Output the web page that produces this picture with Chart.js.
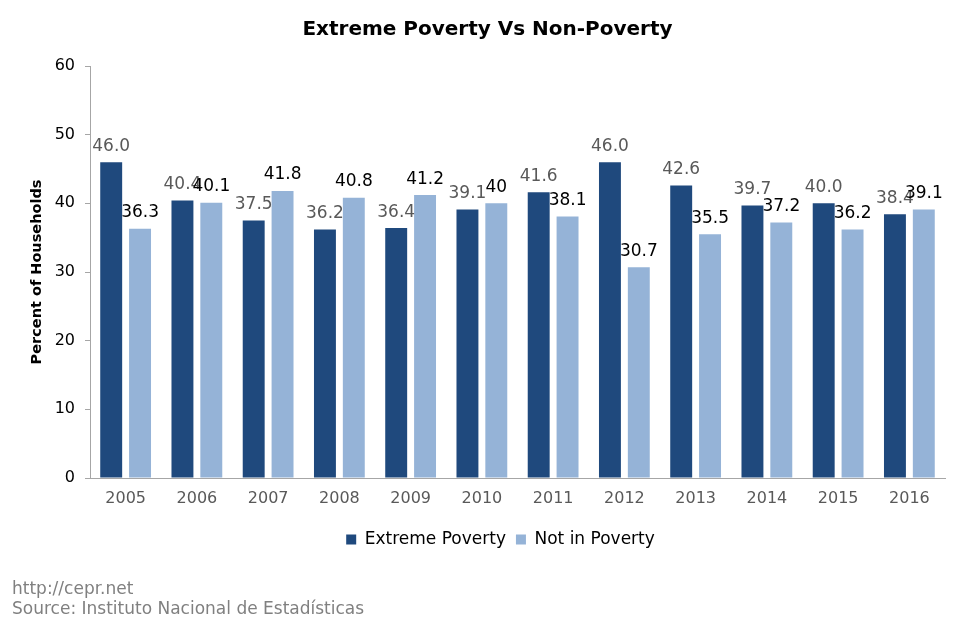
<!DOCTYPE html>
<html>
<head>
<meta charset="utf-8">
<script src="https://cdn.jsdelivr.net/npm/chart.js@4.4.1/dist/chart.umd.min.js"></script>
<style>
  html, body { margin: 0; padding: 0; background: #fff; }
  #wrap { width: 975px; height: 627px; position: relative; }
</style>
</head>
<body>
<div id="wrap"><canvas id="c" width="975" height="627"></canvas></div>
<script>
const years = ['2005','2006','2007','2008','2009','2010','2011','2012','2013','2014','2015','2016'];
const extremePoverty = [46.0, 40.4, 37.5, 36.2, 36.4, 39.1, 41.6, 46.0, 42.6, 39.7, 40.0, 38.4];
const notInPoverty = [36.3, 40.1, 41.8, 40.8, 41.2, 40, 38.1, 30.7, 35.5, 37.2, 36.2, 39.1];
const yTicks = [0, 10, 20, 30, 40, 50, 60];
const titleText = 'Extreme Poverty Vs Non-Poverty';
const yTitle = 'Percent of Households';
const footerLines = ['http://cepr.net', 'Source: Instituto Nacional de Estadísticas'];

const FONT = '"DejaVu Sans", Verdana, sans-serif';

const labelPlugin = {
  id: 'barLabels',
  afterDatasetsDraw(chart) {
    const ctx = chart.ctx;
    ctx.save();
    ctx.font = '17px ' + FONT;
    ctx.textAlign = 'center';
    ctx.textBaseline = 'alphabetic';
    chart.data.datasets.forEach((ds, di) => {
      const meta = chart.getDatasetMeta(di);
      meta.data.forEach((bar, i) => {
        const v = ds.data[i];
        const txt = di === 0 ? v.toFixed(1) : String(v);
        ctx.fillStyle = di === 0 ? '#595959' : '#000000';
        ctx.fillText(txt, bar.x, bar.y - 11.5);
      });
    });
    ctx.restore();
  }
};

const placePlugin = {
  id: 'placeBoxes',
  afterLayout(chart) {
    if (chart.titleBlock) { chart.titleBlock.left = 0; chart.titleBlock.right = chart.width; }
    if (chart.legend) { chart.legend.left += 22; chart.legend.right += 22; }
  }
};

new Chart(document.getElementById('c'), {
  type: 'bar',
  data: {
    labels: years,
    datasets: [
      { label: 'Extreme Poverty', data: extremePoverty, backgroundColor: '#1F497D',
        borderWidth: 0, barPercentage: 0.76, categoryPercentage: 0.81 },
      { label: 'Not in Poverty', data: notInPoverty, backgroundColor: '#95B3D7',
        borderWidth: 0, barPercentage: 0.76, categoryPercentage: 0.81 }
    ]
  },
  options: {
    responsive: false,
    animation: false,
    devicePixelRatio: 1,
    layout: { padding: { left: 12, right: 30, top: 0, bottom: 0 } },
    plugins: {
      title: {
        display: true, text: titleText, color: '#000',
        font: { family: FONT, size: 20, weight: 'bold', lineHeight: 1.2 },
        padding: { top: 18, bottom: 24 }
      },
      subtitle: {
        display: true, text: footerLines, position: 'bottom', align: 'start',
        color: '#808080',
        font: { family: FONT, size: 17, weight: 'normal', lineHeight: 20 / 17 },
        padding: { top: 22, bottom: 7 }
      },
      legend: {
        position: 'bottom',
        labels: {
          color: '#000', boxWidth: 10, boxHeight: 10, padding: 10,
          font: { family: FONT, size: 17 }
        }
      },
      tooltip: { enabled: false }
    },
    scales: {
      x: {
        grid: { display: false, drawTicks: false },
        border: { display: true, color: '#A6A6A6', width: 1 },
        ticks: { color: '#595959', font: { family: FONT, size: 16 }, padding: 11 },
        afterFit(scale) { scale.height = 43; }
      },
      y: {
        min: 0, max: 60,
        afterBuildTicks(scale) { scale.ticks = yTicks.map(v => ({ value: v })); },
        grid: { drawOnChartArea: false, drawTicks: true, tickLength: 5, color: '#A6A6A6' },
        border: { display: true, color: '#A6A6A6', width: 1 },
        ticks: { color: '#000', font: { family: FONT, size: 16 }, padding: 10 },
        title: {
          display: true, text: yTitle, color: '#000',
          font: { family: FONT, size: 14.5, weight: 'bold' },
          padding: { top: 17, bottom: 0 }
        },
        afterFit(scale) { scale.width = 78; }
      }
    }
  },
  plugins: [labelPlugin, placePlugin]
});
</script>
</body>
</html>
